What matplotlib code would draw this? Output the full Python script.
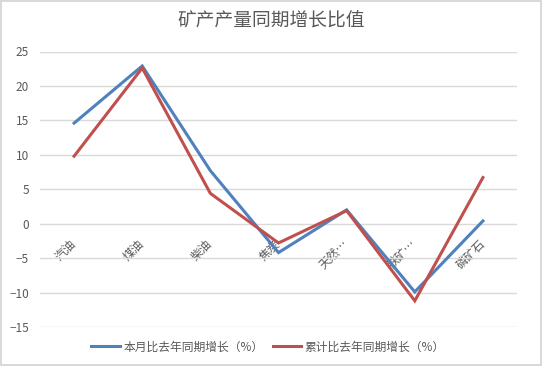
import matplotlib
matplotlib.use("Agg")
import matplotlib.pyplot as plt

plt.rcParams['font.family'] = ['Noto Sans CJK SC', 'DejaVu Sans']

categories = ["汽油", "煤油", "柴油", "焦炭", "天然…", "铁矿…", "磷矿石"]
month_growth = [14.6, 22.9, 7.7, -4.2, 2.0, -9.9, 0.4]
cumulative_growth = [9.8, 22.6, 4.4, -2.8, 1.9, -11.2, 6.7]

series_names = ["本月比去年同期增长（%）", "累计比去年同期增长（%）"]
title = "矿产产量同期增长比值"

TEXT = "#595959"
GRID = "#d9d9d9"

fig = plt.figure(figsize=(5.42, 3.66), dpi=100)
fig.patch.set_edgecolor(GRID)
fig.patch.set_linewidth(1.5)
ax = fig.add_axes([40 / 542, 39 / 366, 477 / 542, 275.5 / 366])

x = list(range(len(categories)))
ax.plot(x, month_growth, color="#4f81bd", lw=2.2, label=series_names[0],
        solid_joinstyle="miter", zorder=3)
ax.plot(x, cumulative_growth, color="#c0504d", lw=2.2, label=series_names[1],
        solid_joinstyle="miter", zorder=3)

ax.set_xlim(-0.5, len(categories) - 0.5)
ax.set_ylim(-15, 25)
ax.set_yticks(range(-15, 26, 5))
ax.yaxis.grid(True, color=GRID, lw=1)
ax.set_axisbelow(True)

for s in ax.spines.values():
    s.set_visible(False)
ax.spines['bottom'].set_position(('data', 0))

ax.set_xticks(x)
ax.set_xticklabels(categories, rotation=45, ha='right', va='center',
                   rotation_mode='anchor')
ax.tick_params(axis='x', length=0, pad=13, labelsize=8.5, labelcolor=TEXT)
ax.tick_params(axis='y', length=0, pad=8, labelsize=8.5, labelcolor=TEXT)

fig.text(0.5, 1 - 21 / 366, title, ha='center', va='center',
         fontsize=13.5, color=TEXT)

fig.legend(loc='center', bbox_to_anchor=(268 / 542, 1 - 347 / 366),
           ncol=2, frameon=False, fontsize=8.5, labelcolor=TEXT,
           handlelength=2.4, handletextpad=0.3, columnspacing=0.8)

fig.savefig("out.png", dpi=100)
